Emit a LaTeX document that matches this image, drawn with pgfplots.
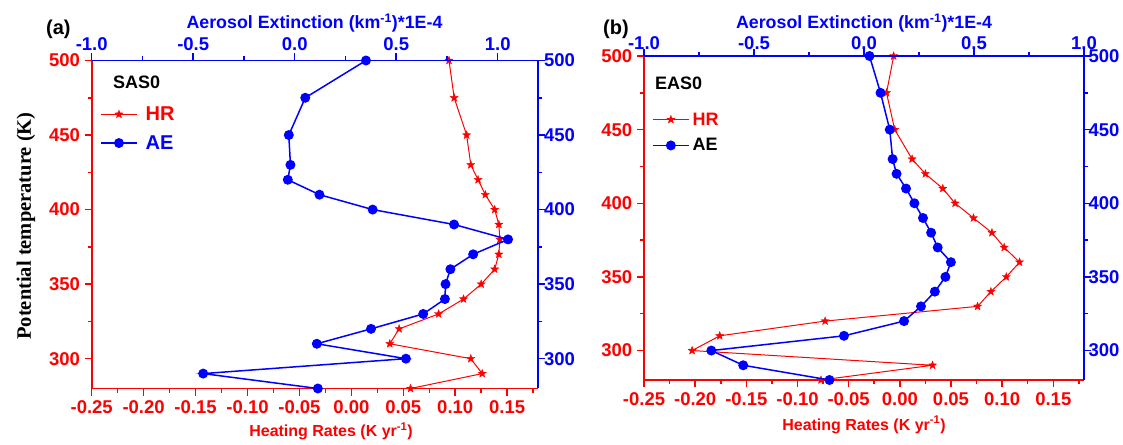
\documentclass[border=0pt]{standalone}
\usepackage{pgfplots}
\pgfplotsset{compat=1.18}
\usepackage{pgfplotstable}
\usepackage{fontspec}
\setmainfont{Liberation Sans}
\newfontfamily\timesfont{Liberation Serif}
\definecolor{cR}{RGB}{255,0,0}
\definecolor{cB}{RGB}{0,0,255}

\pgfdeclareplotmark{fstar}{%
 \pgfpathmoveto{\pgfpointpolar{90}{\pgfplotmarksize}}%
 \pgfpathlineto{\pgfpointpolar{126}{0.42\pgfplotmarksize}}%
 \pgfpathlineto{\pgfpointpolar{162}{\pgfplotmarksize}}%
 \pgfpathlineto{\pgfpointpolar{198}{0.42\pgfplotmarksize}}%
 \pgfpathlineto{\pgfpointpolar{234}{\pgfplotmarksize}}%
 \pgfpathlineto{\pgfpointpolar{270}{0.42\pgfplotmarksize}}%
 \pgfpathlineto{\pgfpointpolar{306}{\pgfplotmarksize}}%
 \pgfpathlineto{\pgfpointpolar{342}{0.42\pgfplotmarksize}}%
 \pgfpathlineto{\pgfpointpolar{18}{\pgfplotmarksize}}%
 \pgfpathlineto{\pgfpointpolar{54}{0.42\pgfplotmarksize}}%
 \pgfpathclose
 \pgfusepathqfillstroke}

\pgfplotstableread{
T v
500 0.094
475 0.099
450 0.111
430 0.115
420 0.122
410 0.129
400 0.138
390 0.142
380 0.143
370 0.142
360 0.138
350 0.125
340 0.108
330 0.084
320 0.046
310 0.037
300 0.115
290 0.126
280 0.057
}\HRa
\pgfplotstableread{
T v
500 0.351
475 0.052
450 -0.029
430 -0.021
420 -0.034
410 0.122
400 0.384
390 0.785
380 1.051
370 0.879
360 0.767
350 0.743
340 0.740
330 0.633
320 0.376
310 0.109
300 0.548
290 -0.451
280 0.114
}\AEa
\pgfplotstableread{
T v
500 -0.006
475 -0.013
450 -0.005
430 0.012
420 0.025
410 0.042
400 0.054
390 0.072
380 0.090
370 0.102
360 0.117
350 0.104
340 0.089
330 0.076
320 -0.073
310 -0.176
300 -0.203
290 0.032
280 -0.077
}\HRb
\pgfplotstableread{
T v
500 0.025
475 0.075
450 0.117
430 0.130
420 0.148
410 0.191
400 0.229
390 0.268
380 0.305
370 0.335
360 0.395
350 0.370
340 0.322
330 0.259
320 0.182
310 -0.091
300 -0.694
290 -0.549
280 -0.157
}\AEb

\pgfplotsset{
  base/.style={
    scale only axis, ymin=280, ymax=500,
    ytick={300,350,400,450,500}, minor ytick={325,375,425,475},
    tick align=outside, major tick length=7pt, minor tick length=4pt,
    axis line style={-, line width=1.9pt},
    tick style={line width=1.5pt},
    ticklabel style={font=\fontsize{18.5}{21}\selectfont\bfseries},
    /pgf/number format/assume math mode=true,
  },
  hr/.style={base,
    xmin=-0.25, xmax=0.18,
    xtick={-0.25,-0.2,-0.15,-0.1,-0.05,0,0.05,0.1,0.15},
    minor xtick={-0.225,-0.175,-0.125,-0.075,-0.025,0.025,0.075,0.125,0.175},
    axis x line*=bottom, axis y line*=left,
    x axis line style={cR}, y axis line style={cR},
    x tick style={cR}, y tick style={cR},
    xticklabel style={cR, /pgf/number format/.cd, fixed, fixed zerofill, precision=2},
    yticklabel style={cR},
    xticklabel shift=1.8pt, yticklabel shift=1.2pt,
  },
  ae/.style={base,
    xmin=-1, xmax=1.2,
    xtick={-1,-0.5,0,0.5,1},
    minor xtick={-0.75,-0.25,0.25,0.75},
    axis x line*=top, axis y line*=right,
    x axis line style={cB}, y axis line style={cB},
    x tick style={cB}, y tick style={cB},
    xticklabel style={cB, /pgf/number format/.cd, fixed, fixed zerofill, precision=1},
    yticklabel style={cB},
    xticklabel shift=-0.8pt, yticklabel shift=-4.8pt,
    legend cell align=left,
    legend image code/.code={\draw[mark repeat=2, mark phase=2, #1] plot coordinates {(0pt,0pt) (18pt,0pt) (36pt,0pt)};},
  },
  hrline/.style={cR, line width=1pt, mark=fstar, mark size=4.3pt, mark options={fill=cR, draw=cR, line width=0.3pt, solid}},
  aeline/.style={cB, line width=1.5pt, mark=*, mark size=4.2pt, mark options={fill=cB, draw=cB, solid}},
}

\begin{document}
\begin{tikzpicture}
\path[use as bounding box] (0,0) rectangle (1123pt,444pt);

% ---------- panel (a)
\begin{axis}[hr, at={(91.7pt,55.5pt)}, anchor=south west, width=446.6pt, height=328pt]
\addplot[hrline] table[x=v, y=T] {\HRa};
\end{axis}
\begin{axis}[ae, at={(91.7pt,55.5pt)}, anchor=south west, width=446.6pt, height=328pt,
  legend style={draw=none, fill=none, at={(0.0186,0.866)}, anchor=north west, inner sep=0pt,
    font=\fontsize{20}{23}\selectfont\bfseries, row sep=9.5pt, nodes={inner sep=2pt},
    /tikz/every odd column/.append style={column sep=6pt}},
]
\addlegendimage{hrline}
\addlegendentry{\textcolor{cR}{HR}}
\addplot[aeline] table[x=v, y=T] {\AEa};
\addlegendentry{\textcolor{cB}{AE}}
\end{axis}
\node[anchor=west, inner sep=0pt, font=\fontsize{18}{22}\selectfont\bfseries] at (113pt,361.5pt) {SAS0};
\node[anchor=base west, inner sep=0pt, font=\fontsize{20}{24}\selectfont\bfseries] at (46pt,409.3pt) {(a)};
\node[anchor=base, inner sep=0pt, text=cR, font=\fontsize{16}{19}\selectfont\bfseries] at (331pt,7.3pt) {Heating Rates (K yr\textsuperscript{-1})};
\node[anchor=base, inner sep=0pt, text=cB, font=\fontsize{17.8}{21}\selectfont\bfseries] at (314.5pt,415.7pt) {Aerosol Extinction (km\textsuperscript{-1})*1E-4};
\node[anchor=base, rotate=90, inner sep=0pt, font=\timesfont\fontsize{20.5}{24}\selectfont\bfseries] at (31pt,218pt) {Potential temperature (K)};

% ---------- panel (b)
\begin{axis}[hr, at={(644pt,64pt)}, anchor=south west, width=440pt, height=324pt]
\addplot[hrline] table[x=v, y=T] {\HRb};
\end{axis}
\begin{axis}[ae, at={(644pt,64pt)}, anchor=south west, width=440pt, height=324pt,
  xmin=-1, xmax=1, xticklabel shift=-3.9pt, yticklabel shift=-6pt,
  legend style={draw=none, fill=none, at={(0.018,0.832)}, anchor=north west, inner sep=0pt,
    font=\fontsize{18}{21}\selectfont\bfseries, row sep=8pt, nodes={inner sep=2pt},
    /tikz/every odd column/.append style={column sep=1pt}},
]
\addlegendimage{hrline}
\addlegendentry{\textcolor{cR}{HR}}
\addplot[aeline] table[x=v, y=T] {\AEb};
\addlegendentry{\textcolor{black}{AE}}
\end{axis}
\node[anchor=west, inner sep=0pt, font=\fontsize{18}{22}\selectfont\bfseries] at (655pt,360.5pt) {EAS0};
\node[anchor=base west, inner sep=0pt, font=\fontsize{20}{24}\selectfont\bfseries] at (603pt,409pt) {(b)};
\node[anchor=base, inner sep=0pt, text=cR, font=\fontsize{16}{19}\selectfont\bfseries] at (864pt,14pt) {Heating Rates (K yr\textsuperscript{-1})};
\node[anchor=base, inner sep=0pt, text=cB, font=\fontsize{17.8}{21}\selectfont\bfseries] at (864pt,415.7pt) {Aerosol Extinction (km\textsuperscript{-1})*1E-4};
\end{tikzpicture}
\end{document}
